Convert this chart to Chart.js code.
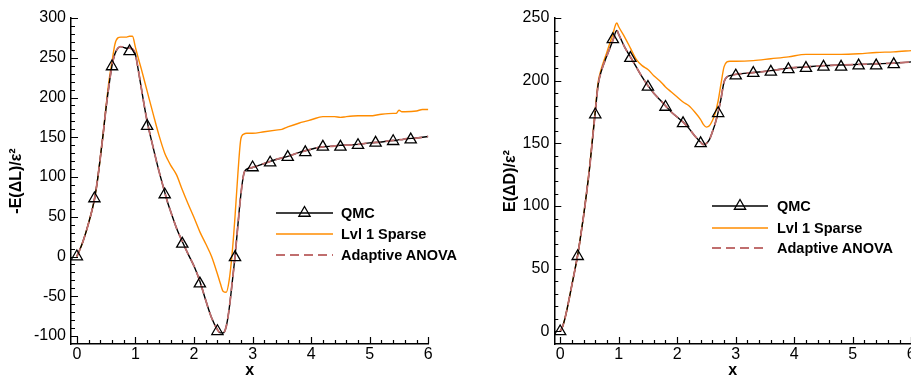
<!DOCTYPE html>
<html><head><meta charset="utf-8">
<script src="https://cdn.jsdelivr.net/npm/chart.js@4.4.1/dist/chart.umd.min.js"></script>
<style>
html,body{margin:0;padding:0;background:#fff;overflow:hidden;width:911px;height:379px;position:relative}
canvas{position:absolute;top:0}
#c1{left:0}
#c2{left:494px}
.legtxt{position:absolute;font:bold 14.5px "Liberation Sans",Arial,sans-serif;color:#000;white-space:nowrap;line-height:16px}
svg.legsym{position:absolute;overflow:visible}
</style></head><body>
<canvas id="c1" width="460" height="379"></canvas>
<canvas id="c2" width="440" height="379"></canvas>
<script>
// ---------- categories / labels ----------
const seriesNames = ['QMC', 'Lvl 1 Sparse', 'Adaptive ANOVA'];
const xTickLabels = [0, 1, 2, 3, 4, 5, 6];
const liftYTicks = [-100, -50, 0, 50, 100, 150, 200, 250, 300];
const dragYTicks = [0, 50, 100, 150, 200, 250];
const liftTitle = '-E(\u0394L)/\u03b5\u00b2';
const dragTitle = 'E(\u0394D)/\u03b5\u00b2';

// ---------- left panel: -E(dL)/eps^2 ----------
const liftX = [0,0.1,0.2,0.3,0.35,0.4,0.45,0.5,0.55,0.6,0.65,0.7,0.75,0.8,0.85,0.9,0.95,1.0,1.05,1.1,1.15,1.2,1.3,1.4,1.5,1.55,1.6,1.7,1.8,1.9,2.0,2.1,2.2,2.3,2.4,2.45,2.5,2.55,2.6,2.65,2.7,2.75,2.8,2.85,2.9,3.0,3.2,3.4,3.5,3.6,3.8,3.9,4.0,4.2,4.4,4.5,4.6,4.8,5.0,5.2,5.4,5.45,5.5,5.55,5.6,5.8,5.9,6.0];
const liftQMC = [0,18,42,72,95,124,155,188,216,240,255,262,264,263,262,262,261,254,234,212,190,170,138,108,81,68,57,36,19,3,-12,-31,-55,-77,-92,-96,-96,-88,-66,-34,0,40,78,104,110,112,117,122,124,126,131,133,135,138,139,140,140,141,143,144,146,146,147,147,148,149,150,151];
const liftSparse = [0,18,42,72,95,124,155,190,222,245,267,275,276,276,276,277,277,263,249,236,222,208,180,153,130,122,115,103,84,66,49,31,16,0,-22,-34,-44,-45,-30,3,50,105,148,154,155,155,157,159,160,163,168,170,172,176,176,175,176,177,177,179,180,180,184,182,182,183,185,185];
const liftANOVA = [0,18,42,72,95,124,155,188,216,240,255,262,264,263,262,262,261,254,234,212,190,170,138,108,81,68,57,36,19,3,-12,-31,-55,-77,-92,-96,-96,-88,-66,-34,0,40,78,104,110,112,117,122,124,126,131,133,135,138,139,140,140,141,143,144,146,146,147,147,148,149,150,151];
const markX = [0,0.3,0.6,0.9,1.2,1.5,1.8,2.1,2.4,2.7,3.0,3.3,3.6,3.9,4.2,4.5,4.8,5.1,5.4,5.7];
const liftMarkY = [0,73,239,258,164,78,16,-34,-94,-1,112,118,125,131,138,138,140,143,145,147];

// ---------- right panel: E(dD)/eps^2 ----------
const dragX = [0,0.05,0.1,0.2,0.3,0.35,0.4,0.45,0.5,0.55,0.6,0.65,0.7,0.8,0.9,0.95,0.97,1.0,1.1,1.2,1.3,1.4,1.5,1.6,1.7,1.8,1.9,2.0,2.1,2.2,2.3,2.4,2.45,2.5,2.55,2.6,2.65,2.7,2.75,2.8,2.85,2.9,3.0,3.3,3.6,3.9,4.2,4.5,4.8,5.1,5.4,5.7,6.0];
const dragQMC = [0,5,14,37,61,76,92,110,129,152,175,197,207,220,232,239,240,237,227,219,211,203,196,190,185,180,175,171,167,162,156,151,149,150,153,159,166,175,186,199,203,204,205,206.5,208,210,211,212,212.5,213,213.5,214,215];
const dragSparse = [0,5,14,37,61,76,92,110,130,153,177,199,209,223,237,245,246,243,235,226,217,212,209,204,200,195,191,187,183,180,175,169,165,163,164,168,174,184,198,211,215,215.5,215.5,216,217.5,219,221,221,221,221.5,222.5,223,224];
const dragANOVA = [0,5,14,37,61,76,92,110,129,152,175,197,207,220,232,239,240,237,227,219,211,203,196,190,185,180,175,171,167,162,156,151,149,150,153,159,166,175,186,199,203,204,205,206.5,208,210,211,212,212.5,213,213.5,214,215];
const dragMarkY = [0,60,173,233,218,195,179,166,150,174,204,206,207,209,210,211,211,212,212,213];

// ---------- styling ----------
const BLACK = '#000000';
const ORANGE = 'rgb(255,140,0)';
const ROSE = 'rgb(192,110,110)';
const FONT = '"Liberation Sans", Arial, sans-serif';

function pts(xs, ys) { return xs.map((x, i) => ({ x: x, y: ys[i] })); }

const inwardTicks = {
  id: 'inwardTicks',
  afterDatasetsDraw(chart, args, o) {
    const { ctx, chartArea } = chart;
    const xs = chart.scales.x, ys = chart.scales.y;
    ctx.save();
    ctx.strokeStyle = '#000';
    ctx.lineWidth = 1.2;
    ctx.beginPath();
    for (let v = o.xMin; v <= o.xMax + 1e-9; v += o.xMinorStep) {
      const p = Math.round(xs.getPixelForValue(v)) + 0.5;
      const major = Math.abs(v - Math.round(v)) < 1e-6;
      ctx.moveTo(p, chartArea.bottom);
      ctx.lineTo(p, chartArea.bottom - (major ? 7 : 4));
    }
    for (let v = o.yMin; v <= o.yMax + 1e-9; v += o.yMinorStep) {
      const p = Math.round(ys.getPixelForValue(v)) + 0.5;
      const major = Math.abs(v / o.yMajorStep - Math.round(v / o.yMajorStep)) < 1e-6;
      ctx.moveTo(chartArea.left, p);
      ctx.lineTo(chartArea.left + (major ? 7 : 4), p);
    }
    ctx.stroke();
    ctx.restore();
  }
};

function makeChart(id, cfg) {
  return new Chart(document.getElementById(id), {
    type: 'scatter',
    data: {
      datasets: [
        { label: seriesNames[0] + ' markers', data: pts(markX, cfg.markY), showLine: false,
          pointStyle: 'triangle', pointRadius: 6.5, pointBorderWidth: 1.3,
          pointBorderColor: BLACK, pointBackgroundColor: 'rgba(0,0,0,0)', order: 0 },
        { label: seriesNames[2], data: pts(cfg.x, cfg.anova), showLine: true, pointRadius: 0,
          borderColor: ROSE, borderWidth: 1.8, borderDash: [9, 5], tension: 0.35,
          cubicInterpolationMode: 'monotone', order: 1 },
        { label: seriesNames[0], data: pts(cfg.x, cfg.qmc), showLine: true, pointRadius: 0,
          borderColor: BLACK, borderWidth: 1.4, cubicInterpolationMode: 'monotone', order: 2 },
        { label: seriesNames[1], data: pts(cfg.x, cfg.sparse), showLine: true, pointRadius: 0,
          borderColor: ORANGE, borderWidth: 1.4, cubicInterpolationMode: 'monotone', order: 3 }
      ]
    },
    options: {
      responsive: false,
      animation: false,
      events: [],
      layout: { padding: { top: 18, right: cfg.padRight, left: 0, bottom: 0 } },
      plugins: {
        legend: { display: false }, tooltip: { enabled: false },
        inwardTicks: { xMin: 0, xMax: 6, xMinorStep: 0.2, yMin: cfg.yTicks[0], yMax: cfg.yMax, yMinorStep: 10, yMajorStep: 50 }
      },
      scales: {
        x: {
          type: 'linear', min: -0.1, max: 6,
          afterBuildTicks: s => { s.ticks = xTickLabels.map(v => ({ value: v })); },
          afterFit: s => { s.height = 35; },
          grid: { display: false, drawTicks: false },
          border: { display: true, color: '#000', width: 1.5 },
          ticks: { color: '#000', font: { family: FONT, size: 16 }, padding: 1, maxRotation: 0, autoSkip: false },
          title: { display: true, text: 'x', color: '#000', font: { family: FONT, size: 16, weight: 'bold', lineHeight: 1 }, padding: { top: 0, bottom: 0 } }
        },
        y: {
          type: 'linear', min: cfg.yMin, max: cfg.yMax,
          afterBuildTicks: s => { s.ticks = cfg.yTicks.map(v => ({ value: v })); },
          afterFit: s => { s.width = cfg.yWidth; },
          grid: { display: false, drawTicks: false },
          border: { display: true, color: '#000', width: 1.5 },
          ticks: { color: '#000', font: { family: FONT, size: 16 }, padding: 5, autoSkip: false },
          title: { display: true, text: cfg.title, color: '#000', font: { family: FONT, size: 16, weight: 'bold' }, padding: { top: 7.4, bottom: 0 } }
        }
      }
    },
    plugins: [inwardTicks]
  });
}

makeChart('c1', { x: liftX, qmc: liftQMC, sparse: liftSparse, anova: liftANOVA, markY: liftMarkY,
  yMin: -110, yMax: 300, yTicks: liftYTicks, yWidth: 71, padRight: 31.7, title: liftTitle });
makeChart('c2', { x: dragX, qmc: dragQMC, sparse: dragSparse, anova: dragANOVA, markY: dragMarkY,
  yMin: -10, yMax: 250, yTicks: dragYTicks, yWidth: 60.3, padRight: 22.7, title: dragTitle });

// ---------- legends (HTML) ----------
function legend(x0, x1, textX, rows) {
  const w = x1 - x0;
  const styles = [
    { stroke: BLACK, dash: '', tri: true, width: 1.4 },
    { stroke: ORANGE, dash: '', tri: false, width: 1.6 },
    { stroke: ROSE, dash: '9 5', tri: false, width: 1.8 }
  ];
  rows.forEach((ry, i) => {
    const st = styles[i];
    const svg = document.createElementNS('http://www.w3.org/2000/svg', 'svg');
    svg.setAttribute('class', 'legsym');
    svg.setAttribute('width', w); svg.setAttribute('height', 16);
    svg.style.left = x0 + 'px'; svg.style.top = (ry - 8) + 'px';
    let inner = '<line x1="0" y1="8" x2="' + w + '" y2="8" stroke="' + st.stroke + '" stroke-width="' + st.width + '"' + (st.dash ? ' stroke-dasharray="' + st.dash + '"' : '') + '/>';
    if (st.tri) {
      const c = w / 2, r = 6.5;
      inner += '<polygon points="' + c + ',' + (8 - r) + ' ' + (c + r * 0.866) + ',' + (8 + r / 2) + ' ' + (c - r * 0.866) + ',' + (8 + r / 2) + '" fill="none" stroke="#000" stroke-width="1.3"/>';
    }
    svg.innerHTML = inner;
    document.body.appendChild(svg);
    const t = document.createElement('div');
    t.className = 'legtxt';
    t.textContent = seriesNames[i];
    t.style.left = textX + 'px';
    t.style.top = (ry - 8) + 'px';
    document.body.appendChild(t);
  });
}
legend(276, 333, 341, [213, 234, 255]);
legend(712, 768, 777, [206, 228, 248]);
</script>
</body></html>
